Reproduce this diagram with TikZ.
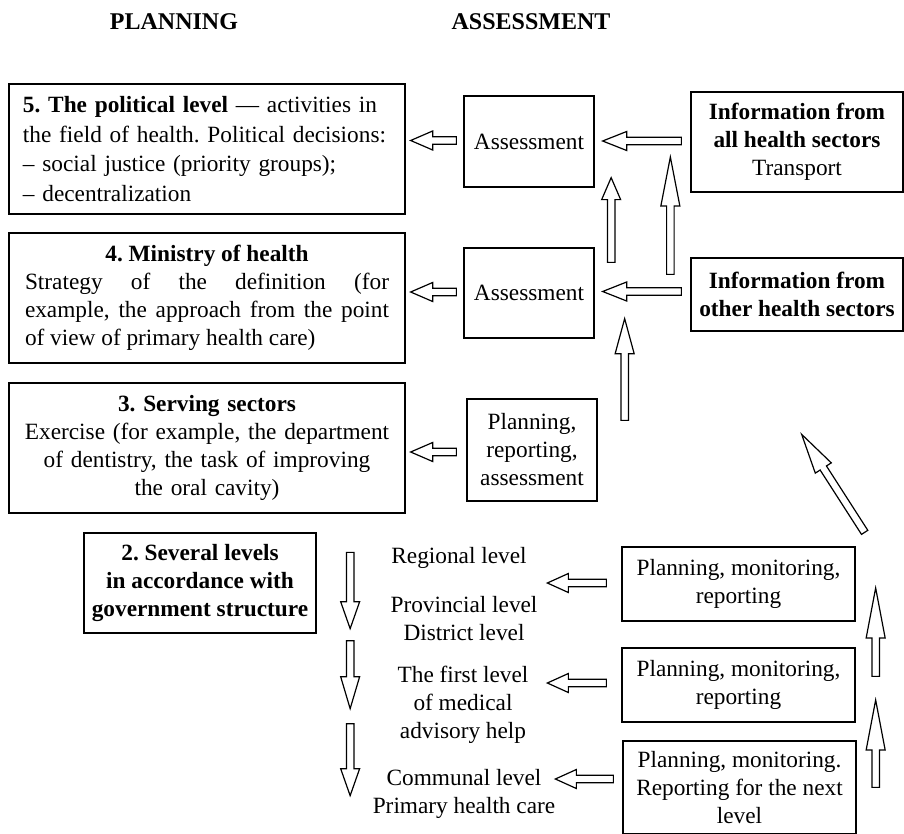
\documentclass[tikz,border=0pt]{standalone}
\usepackage{fontspec}
\setmainfont{Liberation Serif}
\usetikzlibrary{calc}
\frenchspacing

% hollow block arrow: [head length]{tail}{tip}
\newcommand{\fatarrow}[3][22]{%
  \coordinate (fa-t) at #2;
  \coordinate (fa-p) at #3;
  \coordinate (fa-b) at ($(fa-p)!#1pt!(fa-t)$);
  \draw[fat] ($(fa-t)!3.75pt!90:(fa-p)$) -- ($(fa-b)!3.75pt!-90:(fa-t)$)
    -- ($(fa-b)!9.5pt!-90:(fa-t)$) -- (fa-p)
    -- ($(fa-b)!9.5pt!90:(fa-t)$) -- ($(fa-b)!3.75pt!90:(fa-t)$)
    -- ($(fa-t)!3.75pt!-90:(fa-p)$) -- cycle;
}

\begin{document}
\begin{tikzpicture}[x=1pt, y=-1pt, font=\fontsize{23.3}{28}\selectfont]
                \tikzstyle{box}=[draw, line width=1.3pt, inner sep=0pt, align=center]
                \tikzstyle{fat}=[line width=1.2pt, line join=miter]
                \tikzstyle{head}=[font=\fontsize{24}{28}\selectfont\bfseries]

                \useasboundingbox (0,0) rectangle (904,834);

                \node[head] (hpl) at (174,22) {PLANNING};
                \node[head] (has) at (531,22) {ASSESSMENT};

                % planning column
                \node[box, minimum width=396pt, minimum height=130pt, text width=368pt, align=left,
                      font=\fontsize{23.3}{29.5}\selectfont] (pol) at (207,149)
                    {\textbf{5. The political level} --- activities in\\the field of health. Political decisions:\\-- social justice (priority groups);\\-- decentralization};
                \node[box, minimum width=396pt, minimum height=130pt, text width=364pt, align=justify] (min) at (207,298)
                    {\hfill\textbf{4. Ministry of health}\hfill\mbox{}\\Strategy of the definition (for\linebreak example, the approach from the point\linebreak of view of primary health care)};
                \node[box, minimum width=396pt, minimum height=130pt, text width=380pt] (serv) at (207,448)
                    {\textbf{3. Serving sectors}\\Exercise (for example, the department\\of dentistry, the task of improving\\the oral cavity)};
                \node[box, minimum width=232pt, minimum height=100pt, font=\fontsize{23.3}{28}\selectfont\bfseries] (sev) at (200,583)
                    {2. Several levels\\in accordance with\\government structure};

                % assessment column
                \node[box, minimum width=130pt, minimum height=91pt] (as1) at (529,141.5) {Assessment};
                \node[box, minimum width=130pt, minimum height=90pt] (as2) at (529,293) {Assessment};
                \node[box, minimum width=130pt, minimum height=102pt] (plan) at (532,450) {Planning,\\reporting,\\assessment};

                \node[box, minimum width=212pt, minimum height=100pt] (info1) at (797,142)
                    {\textbf{Information from}\\\textbf{all health sectors}\\Transport};
                \node[box, minimum width=212pt, minimum height=73pt] (info2) at (797,294.5)
                    {\textbf{Information from}\\\textbf{other health sectors}};

                % levels
                \node[align=center] (reg) at (459,558) {Regional level};
                \node[align=center] (prov) at (464,619) {Provincial level\\District level};
                \node[align=center] (first) at (463,705) {The first level\\of medical\\advisory help};
                \node[align=center] (comm) at (464,793.5) {Communal level\\Primary health care};

                \node[box, minimum width=233pt, minimum height=74pt] (pmA) at (738.5,584) {Planning, monitoring,\\reporting};
                \node[box, minimum width=233pt, minimum height=74pt] (pmB) at (738.5,685) {Planning, monitoring,\\reporting};
                \node[box, minimum width=233pt, minimum height=93pt] (pmC) at (739.5,787.5) {Planning, monitoring.\\Reporting for the next\\level};

                % arrows to the left
                \fatarrow{($(as1.west)+(-7,-1)$)}{($(pol.east |- as1.west)+(5,-1)$)}
                \fatarrow{($(as2.west)+(-7,-1)$)}{($(min.east |- as2.west)+(5,-1)$)}
                \fatarrow{($(plan.west)+(-10,2)$)}{($(serv.east |- plan.west)+(5,2)$)}
                \fatarrow[24]{($(info1.west)+(-9,-1)$)}{($(as1.east |- info1.west)+(8,-1)$)}
                \fatarrow[24]{($(info2.west)+(-9,-3)$)}{($(as2.east |- info2.west)+(8,-3)$)}

                % arrows up
                \fatarrow{($(as2.north east)+(16.5,15)$)}{($(as1.south east)+(16.5,-10)$)}
                \fatarrow[49]{($(info2.north west)+(-20,17)$)}{($(info2.north west |- info1.west)+(-20,15)$)}
                \fatarrow[35]{($(plan.north east)+(27,22)$)}{($(plan.north east |- as2.south)+(27,-20)$)}
                \fatarrow[40]{($(pmA.north east)+(9,-14)$)}{($(pmA.north east)+(-54,-112)$)}
                \fatarrow[50]{($(pmB.north east)+(20,29)$)}{($(pmA.east)+(20,4)$)}
                \fatarrow[50]{($(pmC.north east)+(19,47)$)}{($(pmB.east)+(20,15)$)}

                % arrows down
                \fatarrow[27]{($(sev.north east)+(33.5,20)$)}{($(sev.south east)+(33.5,-5)$)}
                \fatarrow[32]{($(sev.south east)+(33.5,7)$)}{($(sev.south east)+(33.5,75)$)}
                \fatarrow[27]{($(sev.south east)+(33.5,90)$)}{($(sev.south east)+(33.5,162)$)}

                % levels receive
                \fatarrow[21]{($(pmA.west)+(-15,-1)$)}{($(pmA.west)+(-74,-1)$)}
                \fatarrow[21]{($(pmB.west)+(-15,-2)$)}{($(pmB.west)+(-74,-2)$)}
                \fatarrow[21]{($(pmC.west)+(-9,-8.5)$)}{($(pmC.west)+(-67,-8.5)$)}
            \end{tikzpicture}
\end{document}
